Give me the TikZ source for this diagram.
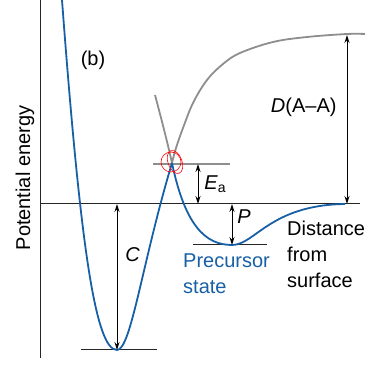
\documentclass[tikz,border=0pt]{standalone}
\usepackage{fontspec}
\setmainfont{Liberation Sans}
\usetikzlibrary{arrows.meta, positioning}
\definecolor{curveblue}{RGB}{24,96,166}
\definecolor{curvegray}{RGB}{142,142,142}
\tikzstyle{txt} = [font=\fontsize{20}{26}\selectfont, inner sep=0pt]
\tikzstyle{lbl} = [txt, font=\fontsize{20}{26}\selectfont\itshape]
\tikzstyle{level} = [line width=1pt, black!85]
\tikzstyle{span} = [{Stealth[length=8pt, width=5pt]}-{Stealth[length=8pt, width=5pt]}, line width=0.9pt]
\tikzstyle{bluecurve} = [curveblue, line width=1.8pt]
\tikzstyle{graycurve} = [curvegray, line width=1.8pt]

\begin{document}
\begin{tikzpicture}[x=1pt, y=-1pt]
    \useasboundingbox (0,0) rectangle (384,369);

    % Axis and levels.
    \coordinate (axisT) at (40,0);
    \coordinate (axisB) at (40,358);
    \coordinate (zeroL) at (40,204);
    \coordinate (zeroR) at (360,204);
    \coordinate (chemL) at (81,350);
    \coordinate (chemR) at (157,350);
    \coordinate (barL) at (153,164);
    \coordinate (barR) at (230,164);
    \coordinate (precL) at (193,245);
    \coordinate (precR) at (267,245);
    \draw [level] (axisT) -- (axisB);
    \draw [level] (zeroL) -- (zeroR);
    \draw [level] (chemL) -- (chemR);
    \draw [graycurve, line width=1.2pt] (barL) -- (barR);
    \draw [level] (precL) -- (precR);

    % Curves.
    \coordinate (wallTop) at (62,0);
    \coordinate (chemMin) at (117,350);
    \coordinate (cross) at (172,163);
    \coordinate (precMin) at (232,245);
    \coordinate (farEnd) at (345,204);
    \draw [graycurve] (155,95) .. controls (163,125) and (168,145) .. (cross);
    \draw [graycurve] plot [smooth, tension=0.6] coordinates {(172,163) (176,148) (183,128) (193,103) (207,80) (223,64) (240,53) (273,42) (307,37) (347,34) (365,34)};
    \draw [bluecurve] (wallTop) .. controls (80,240) and (95,350) .. (chemMin)
        .. controls (131,350) and (142,263) .. (cross);
    \draw [bluecurve] (cross) .. controls (185,225) and (205,245) .. (precMin)
        .. controls (255,245) and (270,205) .. (farEnd);

    % Marked crossing.
    \draw [red, line width=0.6pt] (171,162) circle (10);
    \draw [red, line width=0.6pt, rotate around={20:(175,162)}] (175,162) ellipse (7 and 12);

    % Arrows.
    \coordinate (cTop) at (117,204);
    \coordinate (cBot) at (117,350);
    \coordinate (eTop) at (198,164);
    \coordinate (eBot) at (198,204);
    \coordinate (pTop) at (232,204);
    \coordinate (pBot) at (232,245);
    \coordinate (dTop) at (347,35);
    \coordinate (dBot) at (347,204);
    \draw [span] (cTop) -- node [lbl, pos=0.35, right=8pt] {C} (cBot);
    \draw [span] (eTop) -- node [lbl, pos=0.5, right=6pt] {E\textsubscript{\upshape a}} (eBot);
    \draw [span] (pTop) -- node [lbl, pos=0.32, right=5pt] {P} (pBot);
    \draw [span] (dTop) -- node [txt, pos=0.43, left=10pt] {\textit{D}(A--A)} (dBot);

    % Labels.
    \node (panel) [txt] at (93,60) {(b)};
    \node (yaxis) [txt, rotate=90] at (25,178) {Potential energy};
    \node (precursor) [txt, curveblue, anchor=north west, align=left] at (183,254) {Precursor\\state};
    \node (distance) [txt, anchor=north west, align=left] at (287,221) {Distance\\from\\surface};
\end{tikzpicture}
\end{document}
